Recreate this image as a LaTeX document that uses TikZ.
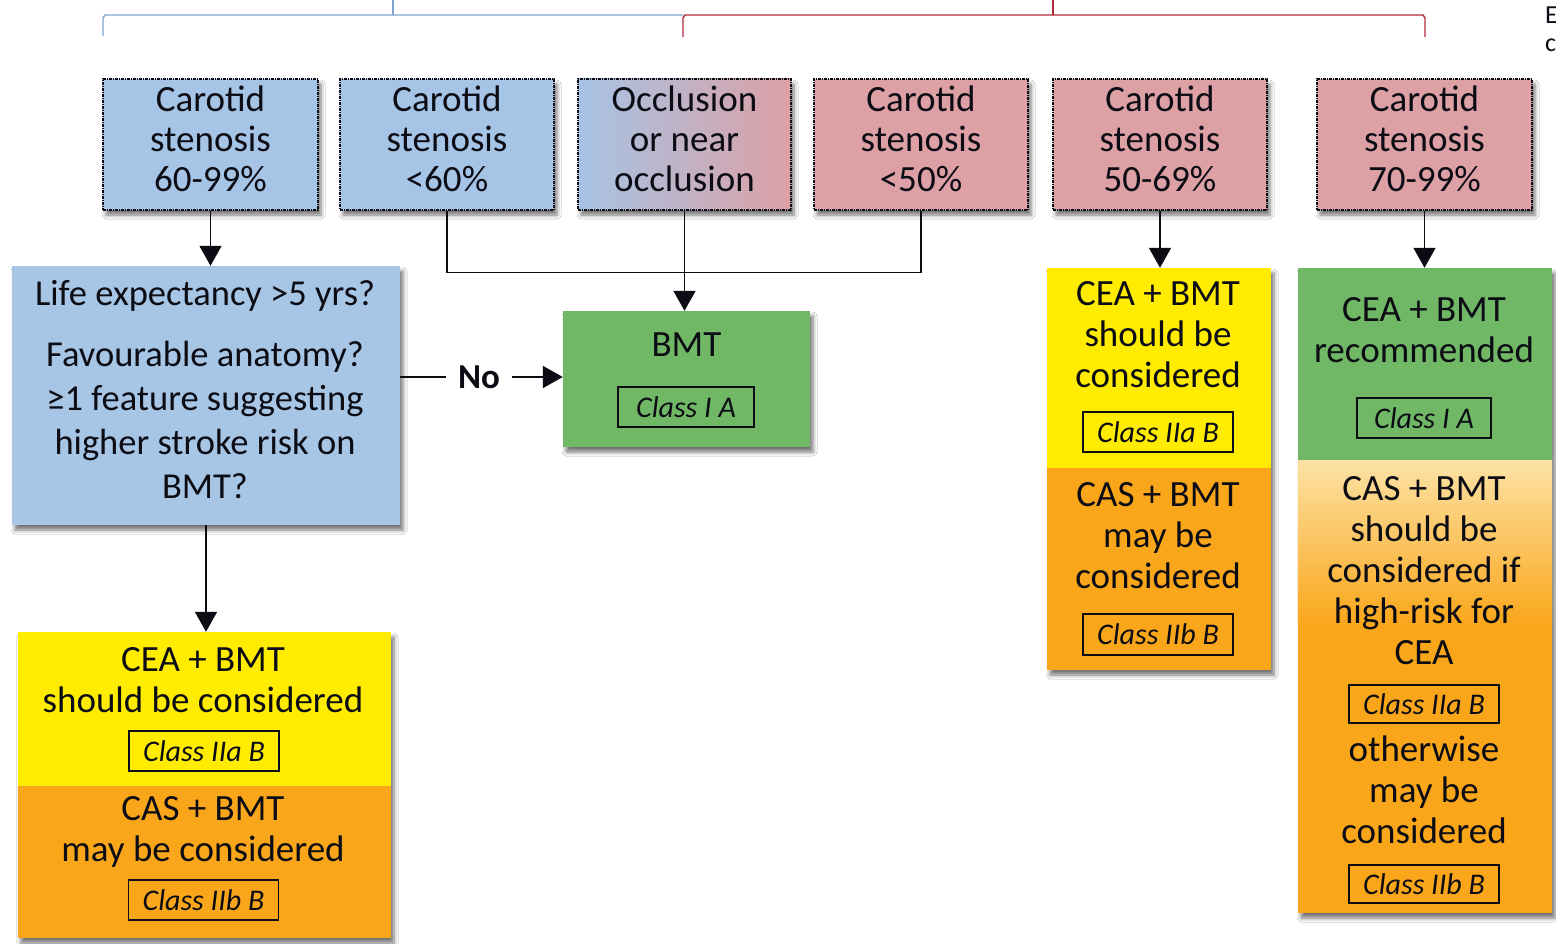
\documentclass[tikz,border=0pt]{standalone}
\usepackage{fontspec}
\setmainfont{Carlito}
\usetikzlibrary{arrows.meta,shadows.blur}

\definecolor{ink}{RGB}{12,12,20}
\definecolor{stenblue}{RGB}{166,196,229}
\definecolor{stenpink}{RGB}{220,160,165}
\definecolor{qblue}{RGB}{167,197,228}
\definecolor{bmtgreen}{RGB}{112,184,101}
\definecolor{recyellow}{RGB}{255,236,0}
\definecolor{recorange}{RGB}{250,166,26}
\definecolor{peach}{RGB}{252,226,165}
\definecolor{bracketblue}{RGB}{125,165,205}
\definecolor{bracketred}{RGB}{175,40,60}

\tikzset{
  boxshadow/.style={blur shadow={shadow xshift=3pt,shadow yshift=-5pt,shadow blur radius=4pt,shadow opacity=55}},
  stenbox/.style={draw=ink, line width=1.1pt, dash pattern=on 3pt off 1pt on 1pt off 1pt,
    minimum height=131pt, inner sep=0pt, boxshadow},
  panel/.style={inner sep=0pt, boxshadow},
  txt/.style={align=center, inner sep=0pt, text=ink, font=\fontsize{37}{41}\selectfont},
  classbox/.style={draw=ink, line width=1.3pt, inner sep=0pt, minimum width=150pt,
    minimum height=40pt, text=ink, font=\fontsize{30}{34}\selectfont\itshape},
  conn/.style={draw=ink, line width=1.7pt},
  arr/.style={conn, -{Triangle[width=22pt,length=20pt]}},
  bracket/.style={line width=1.4pt},
}

\begin{document}
\begin{tikzpicture}[x=1pt,y=-1pt]
\useasboundingbox[fill=white] (0,0) rectangle (1556,944);

% grouping brackets along the top
\draw[bracket, bracketblue] (103,36) -- (103,18) -- (105,15) -- (683,15);
\draw[bracket, bracketblue] (393,0) -- (393,15);
\draw[bracket, bracketred] (683,37) -- (683,18) -- (685,15) -- (1423,15) -- (1425,18) -- (1425,37);
\draw[bracket, bracketred] (1053,0) -- (1053,15);

% text running off the right edge
\node[anchor=west, inner sep=0pt, text=ink, font=\fontsize{26}{30}\selectfont] (edgeE) at (1545,15) {E};
\node[anchor=west, inner sep=0pt, text=ink, font=\fontsize{26}{30}\selectfont] (edgeC) at (1545,45) {c};

% stenosis categories
\node[stenbox, fill=stenblue, minimum width=215pt] (s1) at (210.5,144.5) {};
\node[txt, font=\fontsize{37}{40}\selectfont] (s1t) at (210.5,139) {Carotid\\stenosis\\60-99\%};
\node[stenbox, fill=stenblue, minimum width=214pt] (s2) at (447,144.5) {};
\node[txt, font=\fontsize{37}{40}\selectfont] (s2t) at (447,139) {Carotid\\stenosis\\<60\%};
\node[stenbox, left color=stenblue, right color=stenpink, minimum width=213pt] (s3) at (684.5,144.5) {};
\node[txt, font=\fontsize{37}{40}\selectfont] (s3t) at (684.5,139) {Occlusion\\or near\\occlusion};
\node[stenbox, fill=stenpink, minimum width=214pt] (s4) at (921,144.5) {};
\node[txt, font=\fontsize{37}{40}\selectfont] (s4t) at (921,139) {Carotid\\stenosis\\<50\%};
\node[stenbox, fill=stenpink, minimum width=214pt] (s5) at (1160,144.5) {};
\node[txt, font=\fontsize{37}{40}\selectfont] (s5t) at (1160,139) {Carotid\\stenosis\\50-69\%};
\node[stenbox, fill=stenpink, minimum width=215pt] (s6) at (1424.5,144.5) {};
\node[txt, font=\fontsize{37}{40}\selectfont] (s6t) at (1424.5,139) {Carotid\\stenosis\\70-99\%};

% question box
\node[panel, fill=qblue, minimum width=388pt, minimum height=259pt] (q) at (206,395.5) {};
\node[txt, font=\fontsize{36.5}{44}\selectfont] (qt) at (205,390) {Life expectancy >5 yrs?\\[17pt]Favourable anatomy?\\≥1 feature suggesting\\higher stroke risk on\\BMT?};

% best medical therapy
\node[panel, fill=bmtgreen, minimum width=247pt, minimum height=136pt] (bmt) at (686.5,379) {};
\node[txt] (bmtt) at (686.5,345) {BMT};
\node[classbox, minimum width=136pt] (bmtc) at (686,407) {Class I A};

% left recommendation
\node[panel, fill=recorange, minimum width=373pt, minimum height=306pt] (lr) at (204.5,785) {};
\coordinate (lrsplit) at (0,786);
\fill[recyellow] (lr.north west) rectangle (lr.east |- lrsplit);
\node[txt] (lrt1) at (203,680) {CEA + BMT\\should be considered};
\node[classbox] (lrc1) at (204,751) {Class IIa B};
\node[txt] (lrt2) at (203,832) {CAS + BMT\\may be considered};
\node[classbox] (lrc2) at (203.5,900) {Class IIb B};

% 50-69% recommendation
\node[panel, fill=recorange, minimum width=224pt, minimum height=402pt] (m) at (1159,469) {};
\coordinate (msplit) at (0,468);
\fill[recyellow] (m.north west) rectangle (m.east |- msplit);
\node[txt] (mt1) at (1158,335) {CEA + BMT\\should be\\considered};
\node[classbox] (mc1) at (1158,432) {Class IIa B};
\node[txt] (mt2) at (1158,536) {CAS + BMT\\may be\\considered};
\node[classbox, minimum height=41pt] (mc2) at (1158,634.5) {Class IIb B};

% 70-99% recommendation
\node[panel, fill=recorange, minimum width=254pt, minimum height=645pt] (r) at (1425,590.5) {};
\coordinate (rsplit) at (0,460);
\coordinate (rfade) at (0,625);
\fill[bmtgreen] (r.north west) rectangle (r.east |- rsplit);
\shade[top color=peach, bottom color=recorange] (r.west |- rsplit) rectangle (r.east |- rfade);
\node[txt] (rt1) at (1424,330) {CEA + BMT\\recommended};
\node[classbox, minimum width=134pt] (rc1) at (1424,418) {Class I A};
\node[txt] (rt2) at (1424,571) {CAS + BMT\\should be\\considered if\\high-risk for\\CEA};
\node[classbox, minimum height=38pt] (rc2) at (1424,704) {Class IIa B};
\node[txt] (rt3) at (1424,790) {otherwise\\may be\\considered};
\node[classbox, minimum height=38pt] (rc3) at (1424,884) {Class IIb B};

% connectors
\draw[arr] (s1.south) -- (s1.south |- q.north);
\draw[conn] (s2.south) -- ++(0,62) -| (s4.south);
\draw[arr] (s3.south) -- (s3.south |- bmt.north);
\node[inner sep=0pt, text=ink, font=\bfseries\fontsize{35}{40}\selectfont] (no) at (479,377) {No};
\draw[conn] (q.east |- no) -- ([xshift=-12pt]no.west);
\draw[arr] ([xshift=12pt]no.east) -- (bmt.west |- no);
\draw[arr] (q.south) -- (q.south |- lr.north);
\draw[arr] (s5.south) -- (s5.south |- m.north);
\draw[arr] (s6.south) -- (s6.south |- r.north);
\end{tikzpicture}
\end{document}
